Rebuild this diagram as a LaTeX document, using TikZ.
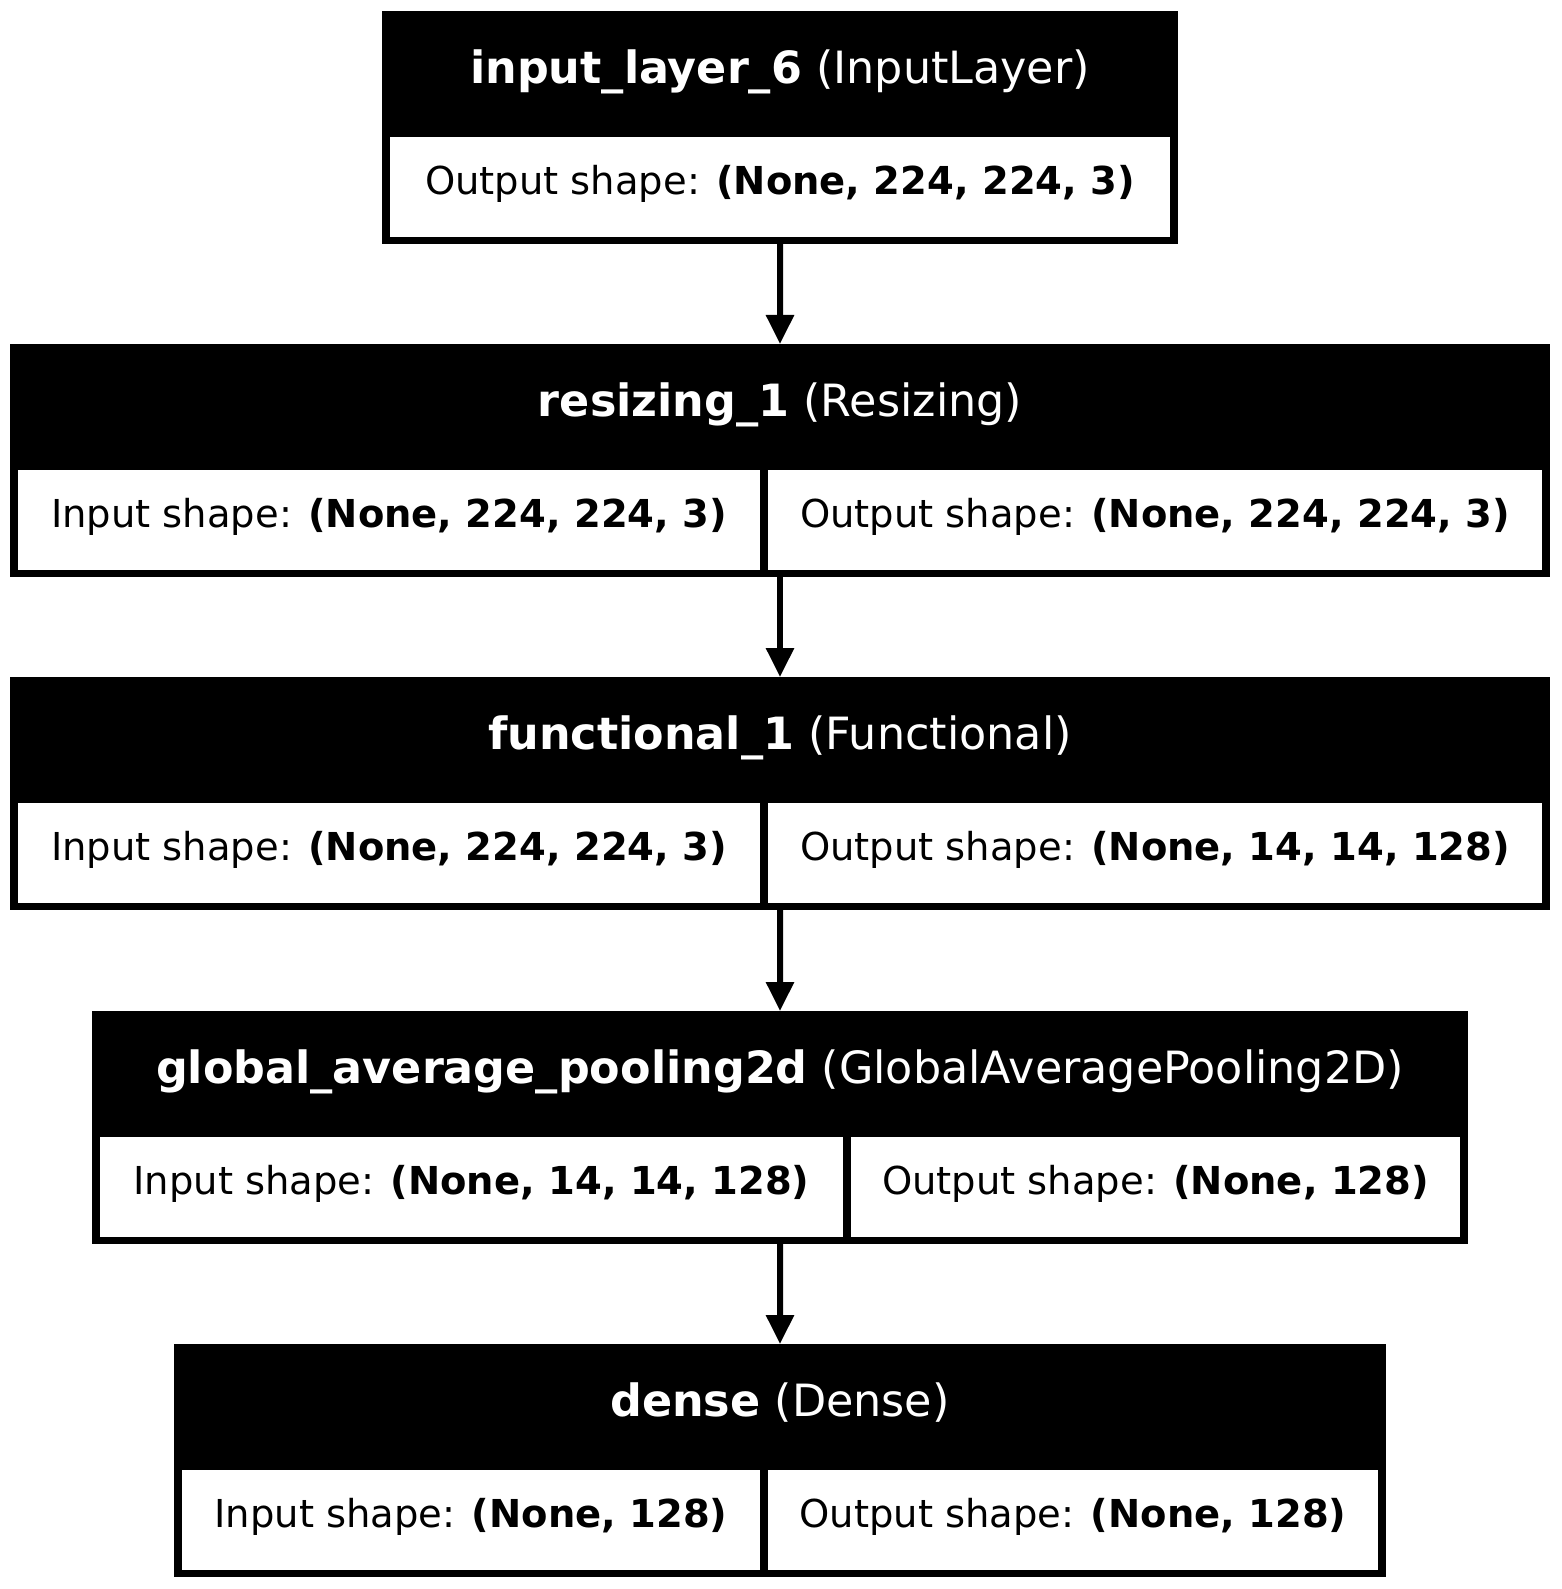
\documentclass[tikz,border=0pt]{standalone}
\usepackage{fontspec}
\setmainfont{DejaVu Sans}
\usetikzlibrary{arrows.meta,positioning}

\begin{document}
\begin{tikzpicture}[x=0.36pt,y=-0.36pt,>={Triangle[length=10.44pt,width=9.72pt]},line width=2.16pt]
  \tikzstyle{head}=[anchor=north west,fill=black,text=white,inner sep=0pt,outer sep=0pt,minimum height=45.36pt,font=\fontsize{16}{19}\selectfont,text height=12.16pt,text depth=5.6pt]
  \tikzstyle{body}=[fill=black,inner sep=0pt,outer sep=0pt,minimum height=38.52pt]
  \tikzstyle{cell}=[fill=white,text=black,inner sep=0pt,outer sep=0pt,minimum height=36pt,font=\fontsize{13.85}{17}\selectfont,text height=10.53pt,text depth=4.85pt]
  \tikzstyle{lcell}=[cell,anchor=north west,xshift=2.88pt]
  \tikzstyle{rcell}=[cell,anchor=north east,xshift=-2.88pt]

  \useasboundingbox (0,0) rectangle (1561,1589);

  \node[head,minimum width=286.56pt] (inp) at (382,11) {\textbf{input\_layer\_6} (InputLayer)};
  \node[body,minimum width=286.56pt] (inpb) [below=0pt of inp] {};
  \node[lcell,minimum width=280.8pt] (inpo) at (inpb.north west) {Output shape: \textbf{(None, 224, 224, 3)}};

  \node[head,minimum width=554.4pt] (rsz) at (10,344) {\textbf{resizing\_1} (Resizing)};
  \node[body,minimum width=554.4pt] (rszb) [below=0pt of rsz] {};
  \node[lcell,minimum width=267.12pt] (rszi) at (rszb.north west) {Input shape: \textbf{(None, 224, 224, 3)}};
  \node[rcell,minimum width=278.64pt] (rszo) at (rszb.north east) {Output shape: \textbf{(None, 224, 224, 3)}};

  \node[head,minimum width=554.4pt] (fun) at (10,677) {\textbf{functional\_1} (Functional)};
  \node[body,minimum width=554.4pt] (funb) [below=0pt of fun] {};
  \node[lcell,minimum width=267.12pt] (funi) at (funb.north west) {Input shape: \textbf{(None, 224, 224, 3)}};
  \node[rcell,minimum width=278.64pt] (funo) at (funb.north east) {Output shape: \textbf{(None, 14, 14, 128)}};

  \node[head,minimum width=495.36pt] (gap) at (92,1011) {\textbf{global\_average\_pooling2d} (GlobalAveragePooling2D)};
  \node[body,minimum width=495.36pt] (gapb) [below=0pt of gap] {};
  \node[lcell,minimum width=267.48pt] (gapi) at (gapb.north west) {Input shape: \textbf{(None, 14, 14, 128)}};
  \node[rcell,minimum width=219.24pt] (gapo) at (gapb.north east) {Output shape: \textbf{(None, 128)}};

  \node[head,minimum width=436.32pt] (dns) at (174,1344) {\textbf{dense} (Dense)};
  \node[body,minimum width=436.32pt] (dnsb) [below=0pt of dns] {};
  \node[lcell,minimum width=208.08pt] (dnsi) at (dnsb.north west) {Input shape: \textbf{(None, 128)}};
  \node[rcell,minimum width=219.6pt] (dnso) at (dnsb.north east) {Output shape: \textbf{(None, 128)}};

  \draw[->] (inpb) -- (rsz);
  \draw[->] (rszb) -- (fun);
  \draw[->] (funb) -- (gap);
  \draw[->] (gapb) -- (dns);
\end{tikzpicture}
\end{document}
